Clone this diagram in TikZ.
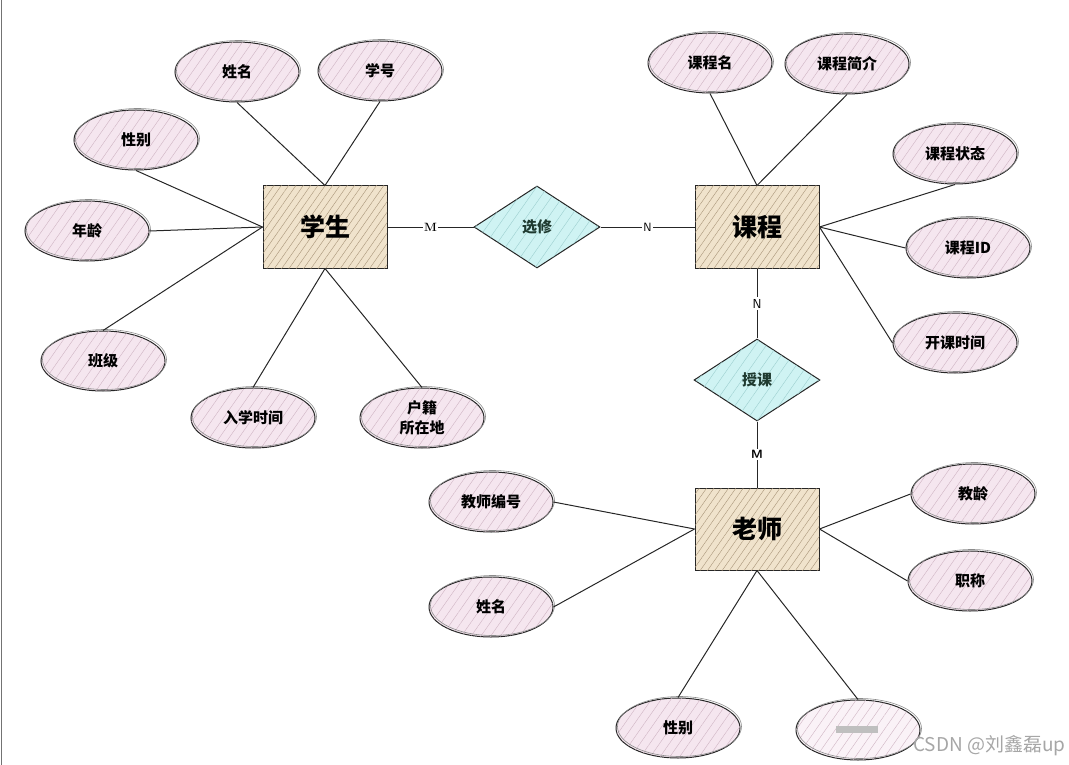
\documentclass[tikz,border=0pt]{standalone}
\usepackage{fontspec}
\usetikzlibrary{shapes.geometric,patterns.meta,positioning}
\newfontfamily\cjk{Noto Sans CJK SC}
\definecolor{attrfill}{HTML}{F5E6EF}
\definecolor{attrhatch}{HTML}{CFB4C3}
\definecolor{entfill}{HTML}{F0E3CC}
\definecolor{enthatch}{HTML}{A89478}
\definecolor{relfill}{HTML}{CFF3F3}
\definecolor{relhatch}{HTML}{9CCFCF}
\definecolor{reltext}{HTML}{1F3A30}

\begin{document}
\begin{tikzpicture}[x=1pt,y=-1pt,line width=1pt,
    attr/.style={ellipse,draw=black!85,fill=attrfill,minimum width=124pt,
      minimum height=60pt,inner sep=0pt,align=center,
      font=\cjk\bfseries\fontsize{15}{20}\selectfont,
      postaction={pattern={Lines[angle=55,distance=8pt,line width=0.4pt]},pattern color=attrhatch},
      postaction={draw=black!45,line width=0.6pt,transform canvas={shift={(1.5pt,1.5pt)}}}},
    entity/.style={rectangle,draw=black!85,fill=entfill,minimum width=124pt,
      minimum height=82pt,inner sep=0pt,font=\cjk\bfseries\fontsize{25}{30}\selectfont,
      postaction={pattern={Lines[angle=55,distance=6pt,line width=0.4pt]},pattern color=enthatch}},
    rel/.style={diamond,draw=black!85,fill=relfill,minimum width=126pt,
      minimum height=82pt,inner sep=0pt,text=reltext,
      font=\cjk\bfseries\fontsize{15}{20}\selectfont,
      postaction={pattern={Lines[angle=55,distance=9pt,line width=0.4pt]},pattern color=relhatch}},
    card/.style={fill=white,inner sep=1.5pt,font=\sffamily\bfseries\fontsize{12}{14}\selectfont},
    link/.style={draw=black!85}]

  \useasboundingbox (0,0) rectangle (1069,765);
  \draw[black!55,line width=1pt] (1.5,0) -- (1.5,765);

  % entities and relationships
  \node[entity] (xuesheng) at (325,227) {学生};
  \node[rel]    (xuanxiu)  [right=86pt of xuesheng] {选修};
  \node[entity] (kecheng)  [right=94pt of xuanxiu] {课程};
  \node[rel]    (shouke)   [below=70pt of kecheng] {授课};
  \node[entity] (laoshi)   [below=66pt of shouke] {老师};

  % student attributes
  \node[attr] (xs-name)  at (237,72)  {姓名};
  \node[attr] (xs-id)    at (380,71)  {学号};
  \node[attr] (xs-sex)   at (136,140) {性别};
  \node[attr] (xs-age)   at (87,231)  {年龄};
  \node[attr] (xs-class) at (103,361) {班级};
  \node[attr] (xs-enter) at (253,418) {入学时间};
  \node[attr] (xs-home)  at (422,418) {户籍\\所在地};

  % course attributes
  \node[attr] (kc-name)  at (710,63)  {课程名};
  \node[attr] (kc-intro) at (847,64)  {课程简介};
  \node[attr] (kc-state) at (955,154) {课程状态};
  \node[attr] (kc-id)    at (968,248) {课程ID};
  \node[attr] (kc-time)  at (955,343) {开课时间};

  % teacher attributes
  \node[attr] (ls-id)    at (491,502) {教师编号};
  \node[attr] (ls-name)  at (491,607) {姓名};
  \node[attr] (ls-years) at (973,494) {教龄};
  \node[attr] (ls-title) at (970,581) {职称};
  \node[attr] (ls-sex)   at (678,728) {性别};
  \node[attr,fill=attrfill!50] (ls-blur) at (858,730) {};
  \fill[black!25] ([xshift=-22pt,yshift=-3pt]ls-blur.center) rectangle ([xshift=20pt,yshift=4pt]ls-blur.center);

  % relationship links
  \path[link] (xuesheng) -- node[card,font=\rmfamily\bfseries\fontsize{12}{14}\selectfont] {M} (xuanxiu);
  \path[link] (xuanxiu) -- node[card,font=\sffamily\fontsize{12}{14}\selectfont] {N} (kecheng);
  \path[link] (kecheng) -- node[card,font=\sffamily\fontsize{13}{14}\selectfont] {N} (shouke);
  \path[link] (shouke) -- node[card] {M} (laoshi);

  % attribute links
  \draw[link] (xs-name.south)  -- (xuesheng.north);
  \draw[link] (xs-id.south)    -- (xuesheng.north);
  \draw[link] (xs-sex.south)   -- (xuesheng.west);
  \draw[link] (xs-age.east)    -- (xuesheng.west);
  \draw[link] (xs-class.north) -- (xuesheng.west);
  \draw[link] (xs-enter.north) -- (xuesheng.south);
  \draw[link] (xs-home.north)  -- (xuesheng.south);

  \draw[link] (kc-name.south)  -- (kecheng.north);
  \draw[link] (kc-intro.south) -- (kecheng.north);
  \draw[link] (kc-state.south) -- (kecheng.east);
  \draw[link] (kc-id.west)     -- (kecheng.east);
  \draw[link] (kc-time.west)   -- (kecheng.east);

  \draw[link] (ls-id.east)     -- (laoshi.west);
  \draw[link] (ls-name.east)   -- (laoshi.west);
  \draw[link] (ls-years.west)  -- (laoshi.east);
  \draw[link] (ls-title.west)  -- (laoshi.east);
  \draw[link] (ls-sex.north)   -- (laoshi.south);
  \draw[link] (ls-blur.north)  -- (laoshi.south);

  \node[anchor=east,text=black!35,inner sep=0pt,font=\cjk\fontsize{19}{22}\selectfont]
    (mark) at (1066,746) {CSDN @刘鑫磊up};
\end{tikzpicture}
\end{document}
